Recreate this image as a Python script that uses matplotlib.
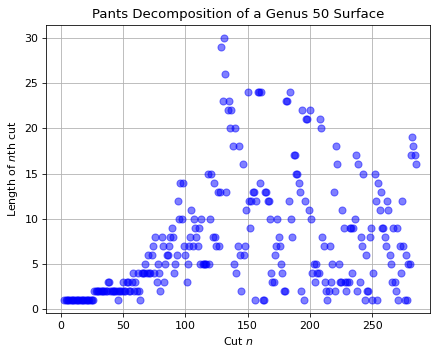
import matplotlib
matplotlib.use("Agg")
import matplotlib.pyplot as plt

# cut index n and the length of the n-th cut
cuts_a = [3, 4, 5, 6, 7, 8, 9, 10, 11, 12, 13, 14, 15, 16, 17, 18, 19, 20, 21, 22, 23, 24, 25, 26]
len_a = [1, 1, 1, 1, 1, 1, 1, 1, 1, 1, 1, 1, 1, 1, 1, 1, 1, 1, 1, 1, 1, 1, 1, 1]

cuts_b = [27, 28, 29, 30, 31, 32, 33, 34, 35, 36, 37, 38, 39, 40, 41, 42, 43, 44, 45, 46,
          47, 48, 49, 50, 51, 52, 53, 54, 55, 56, 57, 58, 59, 60, 61, 62, 63, 64, 65, 66,
          67, 68, 69, 70, 71, 72, 73, 74, 75, 76, 77, 78, 79, 80, 81, 82, 83, 84, 85, 86,
          87, 88, 89, 90, 91, 92, 93, 94, 95, 96, 97, 98, 99, 100]
len_b = [2, 2, 2, 2, 2, 2, 2, 2, 2, 2, 2, 3, 3, 2, 2, 2, 2, 2, 2, 1,
         2, 2, 2, 3, 2, 2, 3, 3, 2, 2, 3, 4, 2, 3, 2, 4, 2, 1, 4, 4,
         4, 5, 4, 6, 4, 4, 6, 7, 4, 8, 3, 5, 4, 2, 8, 7, 3, 5, 6, 6,
         7, 8, 9, 8, 4, 5, 6, 12, 10, 14, 10, 14, 7, 6]

cuts_c = [101, 102, 103, 104, 105, 106, 107, 108, 109, 110, 111, 112, 113, 114, 115, 116,
          117, 118, 119, 120, 121, 122, 123, 124, 125, 126, 127, 128, 129, 130, 131, 132,
          133, 134, 135, 136, 137, 138, 139, 140, 141, 142, 143, 144, 145, 146, 147, 148,
          149, 150]
len_c = [3, 5, 7, 8, 11, 7, 10, 9, 8, 7, 9, 5, 10, 5, 5, 5,
         5, 15, 5, 10, 15, 8, 14, 8, 7, 13, 7, 13, 29, 23, 30, 26,
         13, 22, 23, 20, 22, 18, 5, 20, 4, 7, 18, 6, 2, 16, 6, 7,
         11, 24]

cuts_d = [151, 152, 153, 154, 155, 156, 157, 158, 159, 160, 161, 162, 163, 164, 165,
          166, 167, 168, 169, 170, 171, 172, 173, 174, 175, 176, 177, 178, 179, 180]
len_d = [12, 9, 12, 13, 13, 1, 12, 24, 24, 14, 24, 1, 1, 13, 13,
         12, 12, 10, 4, 3, 3, 6, 7, 10, 8, 7, 5, 4, 2, 2]

cuts_e = [181, 182, 183, 184, 185, 186, 187, 188, 189, 190, 191, 192, 193, 194, 195,
          196, 197, 198, 199, 200, 201, 202, 203, 204, 205, 206, 207, 208, 209, 210]
len_e = [23, 23, 12, 24, 10, 8, 17, 17, 15, 15, 14, 13, 2, 22, 1,
         12, 21, 21, 11, 22, 10, 4, 5, 3, 5, 4, 4, 21, 20, 8]

cuts_f = [211, 212, 213, 214, 215, 216, 217, 218, 219, 220, 221, 222, 223, 224, 225,
          226, 227, 228, 229, 230, 231, 232, 233, 234, 235, 236, 237, 238, 239, 240,
          241, 242, 243, 244, 245, 246, 247]
len_f = [7, 3, 2, 1, 2, 7, 3, 5, 13, 2, 18, 16, 5, 3, 3,
         11, 9, 3, 2, 3, 3, 9, 9, 4, 9, 10, 17, 2, 16, 3,
         8, 7, 15, 1, 6, 2, 2]

cuts_g = [248, 249, 250, 251, 252, 253, 254, 255, 256, 257, 258, 259, 260, 261, 262,
          263, 264, 265, 266, 267, 268, 269, 270, 271, 272, 273, 274, 275, 276, 277,
          278, 279, 280, 281, 282, 283, 284, 285]
len_g = [8, 9, 1, 4, 15, 12, 1, 14, 11, 13, 9, 9, 8, 7, 12,
         11, 6, 5, 3, 9, 3, 2, 9, 1, 7, 4, 12, 7, 1, 6,
         1, 5, 5, 17, 19, 18, 17, 16]

cut_n = cuts_a + cuts_b + cuts_c + cuts_d + cuts_e + cuts_f + cuts_g
length = len_a + len_b + len_c + len_d + len_e + len_f + len_g

x_ticks = [0, 50, 100, 150, 200, 250]
y_ticks = [0, 5, 10, 15, 20, 25, 30]

W, H, DPI = 431, 347, 72
fig = plt.figure(figsize=(W / DPI, H / DPI), dpi=DPI)
ax = fig.add_axes([45.7 / W, (H - 313.3) / H, (430.0 - 45.7) / W, (313.3 - 24.7) / H])

ax.scatter(cut_n, length, s=50, c="b", alpha=0.5, zorder=3)
ax.set_xlim(-12.0, 296.4)
ax.set_ylim(-0.45, 31.45)
ax.set_xticks(x_ticks)
ax.set_yticks(y_ticks)
ax.tick_params(labelsize=11, length=3.9)
ax.grid(True)
ax.set_axisbelow(True)
ax.set_title("Pants Decomposition of a Genus 50 Surface", fontsize=13.2, pad=6.6)
ax.set_xlabel("Cut $n$", fontsize=11, labelpad=4.4)
ax.set_ylabel("Length of $n$th cut", fontsize=11, labelpad=4.4)

fig.savefig("out.png", dpi=DPI)
